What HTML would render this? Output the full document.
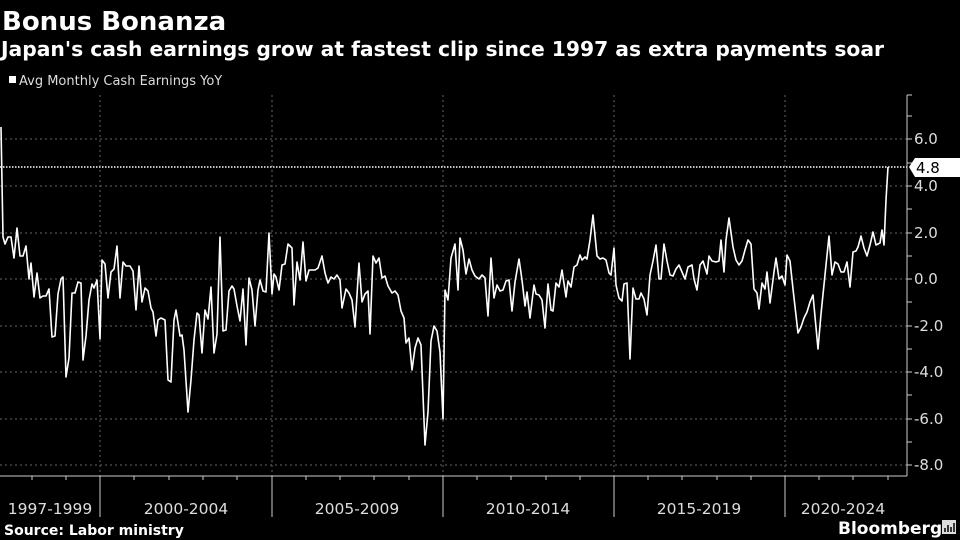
<!DOCTYPE html>
<html><head><meta charset="utf-8"><style>
html,body{margin:0;padding:0;background:#000;width:960px;height:540px;overflow:hidden}
svg{display:block}
text{font-family:"DejaVu Sans","Liberation Sans",sans-serif}
</style></head><body>
<svg width="960" height="540" viewBox="0 0 960 540" xmlns="http://www.w3.org/2000/svg">
<rect width="960" height="540" fill="#000"/>
<text x="2" y="30" fill="#fff" font-size="26" font-weight="bold">Bonus Bonanza</text>
<text x="1" y="56" fill="#fff" font-size="20.3" font-weight="bold">Japan's cash earnings grow at fastest clip since 1997 as extra payments soar</text>
<rect x="9" y="76" width="7" height="7" fill="#fff"/>
<text x="19" y="85" fill="#ddd" font-size="13">Avg Monthly Cash Earnings YoY</text>
<g stroke="#666" stroke-width="1" stroke-dasharray="2,3">
<line x1="0" y1="139" x2="907" y2="139"/><line x1="0" y1="186" x2="907" y2="186"/>
<line x1="0" y1="233" x2="907" y2="233"/><line x1="0" y1="279" x2="907" y2="279"/>
<line x1="0" y1="326" x2="907" y2="326"/><line x1="0" y1="372" x2="907" y2="372"/>
<line x1="0" y1="419" x2="907" y2="419"/><line x1="0" y1="465" x2="907" y2="465"/>
<line x1="100" y1="95" x2="100" y2="476"/><line x1="272" y1="95" x2="272" y2="476"/>
<line x1="443" y1="95" x2="443" y2="476"/><line x1="614" y1="95" x2="614" y2="476"/>
<line x1="785" y1="95" x2="785" y2="476"/>
</g>
<line x1="0" y1="167" x2="907" y2="167" stroke="#fff" stroke-width="1.5" stroke-dasharray="1.5,1.5"/>
<g stroke="#ccc" stroke-width="1">
<line x1="0" y1="476" x2="907" y2="476"/>
<line x1="907" y1="95" x2="907" y2="476"/>
<line x1="907" y1="95" x2="912" y2="95"/>
<line x1="100" y1="476" x2="100" y2="517"/><line x1="272" y1="476" x2="272" y2="517"/>
<line x1="443" y1="476" x2="443" y2="517"/><line x1="614" y1="476" x2="614" y2="517"/>
<line x1="785" y1="476" x2="785" y2="517"/>
<path d="M32 476v4M66 476v4M134 476v4M169 476v4M203 476v4M237 476v4M306 476v4M340 476v4M374 476v4M409 476v4M477 476v4M511 476v4M546 476v4M580 476v4M648 476v4M682 476v4M717 476v4M751 476v4M819 476v4M853 476v4M888 476v4"/>
<path d="M907 116h5M907 139h5M907 163h5M907 186h5M907 209h5M907 233h5M907 256h5M907 279h5M907 302h5M907 326h5M907 349h5M907 372h5M907 395h5M907 419h5M907 442h5M907 465h5"/>
</g>
<g fill="#ddd" font-size="15">
<text x="914" y="144">6.0</text><text x="914" y="191">4.0</text>
<text x="914" y="238">2.0</text><text x="914" y="284">0.0</text>
<text x="914" y="331">-2.0</text><text x="914" y="377">-4.0</text>
<text x="914" y="424">-6.0</text><text x="914" y="470">-8.0</text>
</g>
<path d="M909 167L915 158H960V177H915Z" fill="#fff"/>
<text x="916" y="173" fill="#000" font-size="15">4.8</text>
<g fill="#ddd" font-size="15.5" text-anchor="middle">
<text x="50" y="514">1997-1999</text><text x="186" y="514">2000-2004</text>
<text x="357" y="514">2005-2009</text><text x="528" y="514">2010-2014</text>
<text x="699" y="514">2015-2019</text><text x="843" y="514">2020-2024</text>
</g>
<text x="4" y="535" fill="#fff" font-size="14" font-weight="bold">Source: Labor ministry</text>
<text x="838" y="534" fill="#fff" font-size="17" font-weight="bold">Bloomberg</text>
<rect x="942" y="520" width="14" height="14" fill="#ddd"/>
<path d="M945 532v-4M948 532v-7M951 532v-5M954 532v-9" stroke="#000" stroke-width="1.5"/>
<polyline fill="none" stroke="#fff" stroke-width="1.6" stroke-linejoin="round" points="1,127 3,237 5,244 8,237 11,237 14,258 17,228 20,256 23,256 26,246 29,279 31,263 34,297 37,273 40,298 43,296 46,296 49,289 52,337 55,336 58,294 61,279 63,277 66,377 69,358 72,293 75,293 78,282 81,283 83,360 86,336 89,300 92,284 94,288 97,280 100,339 102,260 105,264 108,298 111,272 114,269 117,246 120,298 123,262 126,266 130,266 133,271 136,310 139,266 142,302 145,288 148,291 151,308 153,312 156,336 158,320 161,318 165,320 168,380 171,382 174,320 176,310 180,336 182,335 184,350 188,412 191,380 194,340 197,313 199,315 202,353 205,310 208,319 211,287 214,353 217,334 220,237 223,331 226,330 229,291 232,286 234,289 237,306 240,321 243,289 246,345 249,278 252,290 255,326 258,290 260,280 263,291 266,292 269,233 272,294 274,274 276,277 279,290 282,265 285,264 288,244 292,248 294,305 297,262 300,280 303,242 306,281 309,270 312,270 315,270 318,268 322,256 325,273 328,283 331,277 334,279 337,275 340,280 342,308 346,289 349,293 352,300 355,327 359,263 362,302 365,294 368,291 370,334 373,256 376,263 379,258 382,278 385,276 388,286 392,293 395,291 398,295 401,311 404,318 406,343 409,338 412,370 415,348 418,338 421,345 425,445 428,412 431,341 434,326 437,331 440,352 443,419 445,290 448,300 451,258 455,244 458,290 460,238 463,250 466,274 469,259 472,270 475,276 479,279 482,275 485,278 488,316 491,258 494,298 497,285 500,291 503,290 506,281 509,280 512,311 515,282 519,259 522,280 525,306 527,292 530,318 534,285 536,294 539,295 542,300 545,328 548,284 551,310 553,311 556,283 559,287 562,270 566,297 568,281 571,287 574,267 577,265 580,255 582,260 585,257 587,259 590,240 593,215 597,256 600,259 603,258 606,260 609,273 611,275 614,248 616,285 619,298 622,301 624,284 627,283 630,359 633,288 636,299 639,299 641,293 644,299 647,315 650,275 653,261 656,245 659,279 661,279 664,244 667,261 670,275 673,276 676,269 679,265 682,272 685,279 688,267 692,265 694,279 697,290 700,265 703,261 707,274 709,256 712,261 716,262 719,261 721,240 724,272 726,240 729,218 733,247 736,260 739,265 742,261 745,250 748,240 751,244 754,289 757,293 759,309 762,283 765,289 767,272 770,303 774,272 776,258 779,279 782,276 785,285 787,255 790,261 793,289 798,333 801,327 804,318 807,312 810,302 813,295 818,349 821,314 826,265 829,236 832,275 835,262 838,264 841,272 844,272 847,262 850,287 853,252 856,251 858,247 861,236 864,248 867,256 870,245 873,232 876,245 880,243 882,230 884,245 886,200 888,167"/>
</svg>
</body></html>
